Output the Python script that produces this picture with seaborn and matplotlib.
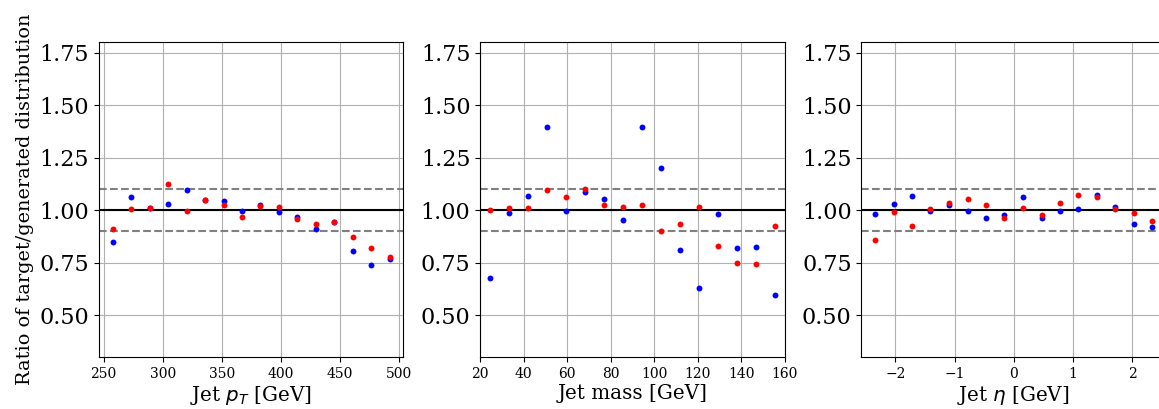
import matplotlib
matplotlib.use("Agg")
import matplotlib.pyplot as plt
import seaborn as sns
import pandas as pd

# bin centres
pt_bins = [257.8, 273.4, 289.1, 304.7, 320.3, 335.9, 351.6, 367.2,
           382.8, 398.4, 414.1, 429.7, 445.3, 460.9, 476.6, 492.2]
mass_bins = [24.4, 33.1, 41.9, 50.6, 59.4, 68.1, 76.9, 85.6,
             94.4, 103.1, 111.9, 120.6, 129.4, 138.1, 146.9, 155.6]
eta_bins = [-2.34, -2.03, -1.72, -1.41, -1.09, -0.78, -0.47, -0.16,
            0.16, 0.47, 0.78, 1.09, 1.41, 1.72, 2.03, 2.34]

# ratios (blue / red)
pt_blue = [0.846, 1.062, 1.011, 1.027, 1.094, 1.049, 1.043, 0.997,
           1.024, 0.989, 0.965, 0.911, 0.941, 0.805, 0.740, 0.768]
pt_red = [0.911, 1.003, 1.011, 1.125, 0.995, 1.049, 1.024, 0.967,
          1.021, 1.013, 0.957, 0.935, 0.941, 0.870, 0.819, 0.778]
mass_blue = [0.676, 0.987, 1.065, 1.395, 0.998, 1.084, 1.054, 0.954,
             1.395, 1.201, 0.810, 0.629, 0.979, 0.821, 0.822, 0.596]
mass_red = [1.002, 1.010, 1.008, 1.097, 1.063, 1.101, 1.024, 1.013,
            1.025, 0.900, 0.933, 1.013, 0.829, 0.748, 0.743, 0.925]
eta_blue = [0.981, 1.027, 1.068, 0.995, 1.022, 0.998, 0.964, 0.975,
            1.063, 0.960, 0.995, 1.003, 1.070, 1.013, 0.932, 0.921]
eta_red = [0.857, 0.992, 0.925, 1.003, 1.036, 1.051, 1.025, 0.962,
           1.010, 0.978, 1.033, 1.071, 1.060, 1.006, 0.987, 0.948]

xlabels = ["Jet $p_T$ [GeV]", "Jet mass [GeV]", "Jet $\\eta$ [GeV]"]
y_ticks = [0.50, 0.75, 1.00, 1.25, 1.50, 1.75]

plt.rcParams['font.family'] = ['DejaVu Serif']

fig, axes = plt.subplots(1, 3, figsize=(11.59, 4.09), dpi=100)
fig.subplots_adjust(left=0.0854, right=1.006, bottom=0.127, top=0.897, wspace=0.252)

panels = [(pt_bins, pt_blue, pt_red), (mass_bins, mass_blue, mass_red),
          (eta_bins, eta_blue, eta_red)]

for ax, (xb, yb, yr), xl in zip(axes, panels, xlabels):
    df = pd.DataFrame({"x": xb, "blue": yb, "red": yr})
    ax.axhline(1.0, color="black", lw=1.5, zorder=2)
    ax.axhline(1.1, color="gray", lw=1.5, ls="--", zorder=2)
    ax.axhline(0.9, color="gray", lw=1.5, ls="--", zorder=2)
    sns.scatterplot(data=df, x="x", y="blue", color="blue", s=18,
                    linewidth=0, ax=ax, zorder=3)
    sns.scatterplot(data=df, x="x", y="red", color="red", s=18,
                    linewidth=0, ax=ax, zorder=3)
    ax.set_ylim(0.3, 1.8)
    ax.set_yticks(y_ticks)
    ax.tick_params(axis="y", labelsize=16)
    ax.tick_params(axis="x", labelsize=10)
    ax.grid(True)
    ax.set_axisbelow(True)
    ax.set_xlabel(xl, fontsize=14.3, labelpad=2)
    ax.set_ylabel("")

axes[0].set_xticks([250, 300, 350, 400, 450, 500])
axes[1].set_xlim(20, 160)
axes[1].set_xticks([20, 40, 60, 80, 100, 120, 140, 160])
axes[0].set_ylabel("Ratio of target/generated distribution", fontsize=13.9)

fig.savefig("out.png", dpi=100)
